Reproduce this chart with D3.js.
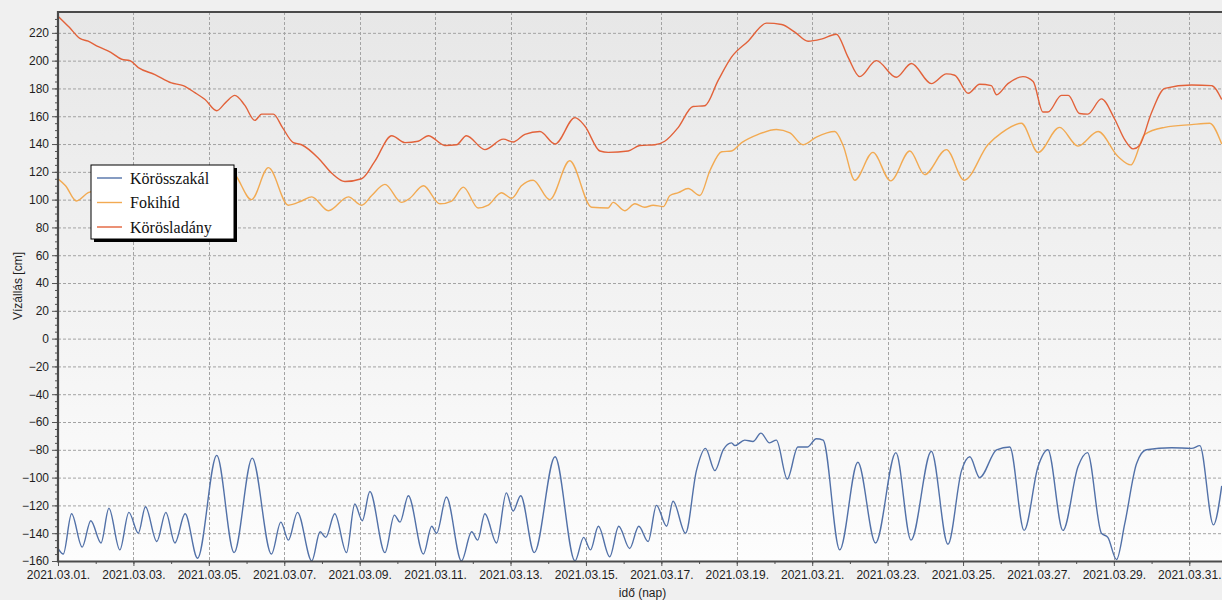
<!DOCTYPE html>
<html>
<head>
<meta charset="utf-8">
<script src="https://cdn.jsdelivr.net/npm/d3@7"></script>
<style>
  body { margin: 0; background: #f0f0f0; overflow: hidden; }
  svg { display: block; font-family: "Liberation Sans", Arial, sans-serif; }
  .grid line { stroke: #a3a3a3; stroke-width: 1; stroke-dasharray: 3,2; }
  .axis text { font-size: 12px; fill: #1e1e1e; }
  .axis line { stroke: #555; }
  .axis path { display: none; }
  .series { fill: none; stroke-width: 1.4; }
</style>
</head>
<body>
<div class="chart"></div>
<script>
// series as [days since 2021.03.01 00:00, water level cm]
const korosszakal = [
  [0,-151],[0.14,-155],[0.36,-126],[0.64,-150],[0.87,-131],[1.14,-147],[1.35,-122],[1.64,-152],
  [1.88,-125],[2.13,-140],[2.32,-121],[2.62,-146],[2.86,-125],[3.1,-147],[3.37,-126],[3.7,-158],
  [4.21,-84],[4.67,-154],[5.15,-86],[5.66,-155],[5.91,-132],[6.11,-145],[6.35,-125],[6.73,-160],
  [6.95,-139],[7.1,-143],[7.34,-126],[7.65,-154],[7.87,-119],[8.07,-131],[8.27,-110],[8.67,-154],
  [8.92,-127],[9.07,-132],[9.29,-113],[9.69,-155],[9.91,-135],[10.04,-140],[10.3,-114],[10.7,-160],
  [10.97,-139],[11.13,-145],[11.32,-126],[11.63,-147],[11.89,-111],[12.07,-124],[12.27,-113],[12.63,-154],
  [13.18,-85],[13.71,-160],[13.94,-143],[14.12,-152],[14.33,-135],[14.63,-157],[14.87,-135],[15.16,-151],
  [15.4,-135],[15.65,-146],[15.87,-120],[16.14,-135],[16.31,-117],[16.64,-140],[16.93,-95],[17.17,-79],
  [17.42,-95],[17.64,-80],[17.86,-75],[17.95,-77],[18.21,-73],[18.43,-74],[18.64,-68],[18.87,-75],
  [19.05,-73],[19.34,-101],[19.62,-78],[19.87,-78],[20.11,-72],[20.29,-73],[20.73,-152],[21.21,-89],
  [21.68,-147],[22.22,-82],[22.62,-145],[23.16,-81],[23.6,-148],[23.96,-95],[24.18,-85],[24.44,-100],
  [24.89,-80],[25.24,-78],[25.62,-138],[25.99,-92],[26.25,-80],[26.65,-138],[27.05,-92],[27.3,-82],
  [27.67,-140],[27.84,-143],[28.07,-159],[28.29,-133],[28.6,-90],[28.86,-80],[29.53,-78.5],[30.06,-79],
  [30.28,-77],[30.64,-134],[30.86,-106]
];

const fokihid = [
  [0,115],[0.2,110],[0.49,99],[0.8,105],[1.1,107],[1.35,112],[1.8,100],[2.3,111],[2.8,100],
  [3.3,112],[3.8,102],[4.45,122],[4.69,118],[5.13,100],[5.58,123],[6.11,96],[6.46,99],[6.73,102],
  [7.17,92],[7.7,102],[8.05,96],[8.32,103],[8.67,111],[9.11,98],[9.33,101],[9.69,110],[10.13,97],
  [10.44,99],[10.75,109],[11.14,94],[11.41,96],[11.76,105],[12.03,101],[12.29,110],[12.6,114],
  [13.04,100],[13.57,128],[14.15,94.5],[14.59,94],[14.72,98],[15.03,92],[15.3,97],[15.56,94.5],
  [15.78,96],[16.05,95],[16.23,103],[16.45,105],[16.71,108],[17.02,103],[17.29,121],[17.6,134.5],
  [17.86,135],[18.13,141],[18.57,147],[19.05,150.5],[19.41,148],[19.76,139.5],[20.11,145],[20.6,149],
  [20.82,139],[21.13,114],[21.61,134],[22.08,113.5],[22.59,135],[22.98,118],[23.56,136],[24.03,114],
  [24.66,139.5],[25.02,148],[25.55,155],[25.99,134],[26.56,152],[27.05,138.5],[27.58,149],[28.11,131],
  [28.45,125],[28.82,147],[29.35,152],[30.06,154],[30.54,155],[30.86,140]
];

const koroskladany = [
  [0,232],[0.3,224],[0.58,216],[0.8,214],[1.07,210],[1.4,206],[1.69,201],[1.91,200],[2.13,195],
  [2.57,190],[3.01,184],[3.32,182],[3.63,177],[3.9,172],[4.21,164],[4.45,170],[4.69,175],[4.95,168],
  [5.22,157],[5.4,161.5],[5.71,161.5],[5.95,152],[6.24,141],[6.46,139.5],[6.9,130],[7.26,119],
  [7.61,113],[8.05,115],[8.4,127.5],[8.85,146],[9.2,141],[9.55,142],[9.82,146],[10.26,139],
  [10.57,139.5],[10.83,146],[11.32,136],[11.81,143.5],[12.07,141.5],[12.38,147],[12.78,149],[13.18,140],
  [13.71,159],[13.97,153],[14.37,135],[14.59,134],[15.12,135],[15.43,139],[15.83,139.5],[16.09,142],
  [16.45,152],[16.84,167],[17.15,167.5],[17.51,186],[17.86,202.5],[18.3,214],[18.79,227],[19.19,226],
  [19.54,220.5],[19.89,214],[20.24,215.5],[20.64,219],[20.95,202.5],[21.26,188.5],[21.7,200],[22.23,188],
  [22.63,198],[23.16,183.5],[23.56,190.5],[23.78,189.5],[24.14,176.5],[24.44,183],[24.75,182],[24.89,175.5],
  [25.19,183.5],[25.59,188.5],[25.86,185],[26.12,163],[26.25,163],[26.61,175],[26.79,175],[27.09,162],
  [27.31,161.5],[27.67,172.5],[28.02,158],[28.29,143],[28.51,136.5],[28.68,139],[28.99,162],[29.35,180],
  [30.06,182.5],[30.59,182],[30.86,172]
];

const seriesNames = ["Körösszakál", "Fokihíd", "Körösladány"];
const seriesColors = ["#5271a8", "#f2aa52", "#e2623a"];
const yTicks = d3.range(-160, 221, 20);
const xTickDays = d3.range(0, 31, 2);
const yTitle = "Vízállás [cm]";
const xTitle = "idő (nap)";

const W = 1222, H = 600;
const margin = {top: 12, left: 58, bottom: 39};
const plotRight = 1227;

const start = new Date(2021, 2, 1);
const toDate = d => new Date(+start + d * 864e5);

const svg = d3.select(".chart").append("svg")
  .attr("width", W).attr("height", H);

const xScale = d3.scaleTime()
  .domain([start, toDate(31)])
  .range([margin.left, plotRight]);

const yScale = d3.scaleLinear()
  .domain([-160, 235])
  .range([H - margin.bottom, margin.top]);

const y0 = yScale.range()[0], y1 = yScale.range()[1];

// plot background gradient
const grad = svg.append("defs").append("linearGradient")
  .attr("id", "bg").attr("x1", 0).attr("x2", 0).attr("y1", 0).attr("y2", 1);
grad.append("stop").attr("offset", "0%").attr("stop-color", "#e7e7e7");
grad.append("stop").attr("offset", "100%").attr("stop-color", "#fdfdfd");

svg.select("defs").append("clipPath").attr("id", "clip")
  .append("rect")
  .attr("x", margin.left).attr("y", y1)
  .attr("width", plotRight - margin.left).attr("height", y0 - y1);

svg.append("rect")
  .attr("x", margin.left).attr("y", y1)
  .attr("width", plotRight - margin.left).attr("height", y0 - y1)
  .attr("fill", "url(#bg)");

// grid
svg.append("g").attr("class", "grid")
  .selectAll("line").data(yTicks.filter(v => v > -160)).join("line")
  .attr("x1", margin.left).attr("x2", plotRight)
  .attr("y1", d => yScale(d) + 0.5).attr("y2", d => yScale(d) + 0.5);

svg.append("g").attr("class", "grid")
  .selectAll("line").data(xTickDays.filter(d => d > 0)).join("line")
  .attr("x1", d => Math.round(xScale(toDate(d))) + 0.5).attr("x2", d => Math.round(xScale(toDate(d))) + 0.5)
  .attr("y1", y1).attr("y2", y0);

// lines
const line = d3.line()
  .x(d => xScale(toDate(d[0])))
  .y(d => yScale(d[1]))
  .curve(d3.curveMonotoneX);

[korosszakal, fokihid, koroskladany].forEach((data, i) => {
  svg.append("path")
    .datum(data)
    .attr("class", "series")
    .attr("clip-path", "url(#clip)")
    .attr("stroke", seriesColors[i])
    .attr("d", line);
});

// axes
const yAxis = d3.axisLeft(yScale).tickValues(yTicks).tickSize(6).tickPadding(3);
const yMinor = d3.axisLeft(yScale).tickValues(d3.range(-160, 235, 5)).tickSize(3).tickFormat("");

svg.append("g").attr("class", "axis y-axis")
  .attr("transform", `translate(${margin.left},0)`)
  .call(yAxis);
svg.append("g").attr("class", "axis")
  .attr("transform", `translate(${margin.left},0)`)
  .call(yMinor);

const xAxis = d3.axisBottom(xScale)
  .tickValues(xTickDays.map(toDate))
  .tickFormat(d3.timeFormat("%Y.%m.%d."))
  .tickSize(5).tickPadding(4);
const xMinor = d3.axisBottom(xScale)
  .tickValues(d3.range(0, 32).map(toDate))
  .tickSize(3).tickFormat("");

svg.append("g").attr("class", "axis x-axis")
  .attr("transform", `translate(0,${y0})`)
  .call(xAxis);
svg.append("g").attr("class", "axis")
  .attr("transform", `translate(0,${y0})`)
  .call(xMinor);

// frame lines
svg.append("line").attr("x1", margin.left).attr("x2", W).attr("y1", y0 + 0.5).attr("y2", y0 + 0.5)
  .attr("stroke", "#4a4a4a").attr("stroke-width", 2.2);
svg.append("line").attr("x1", margin.left).attr("x2", W).attr("y1", y1).attr("y2", y1)
  .attr("stroke", "#4a4a4a").attr("stroke-width", 2);
svg.append("line").attr("x1", margin.left).attr("x2", margin.left).attr("y1", y1 - 1).attr("y2", y0 + 1.5)
  .attr("stroke", "#4a4a4a").attr("stroke-width", 2.2);

// axis titles
svg.append("text")
  .attr("transform", `translate(22,${286}) rotate(-90)`)
  .attr("text-anchor", "middle")
  .attr("font-size", 12).attr("fill", "#1e1e1e")
  .text(yTitle);

svg.append("text")
  .attr("x", (margin.left + plotRight) / 2).attr("y", 597)
  .attr("text-anchor", "middle")
  .attr("font-size", 12).attr("fill", "#1e1e1e")
  .text(xTitle);

// legend
const legend = svg.append("g").attr("transform", "translate(91,165)");
legend.append("rect").attr("x", 3).attr("y", 3).attr("width", 143).attr("height", 74).attr("fill", "#000");
legend.append("rect").attr("x", 0).attr("y", 0).attr("width", 143).attr("height", 74)
  .attr("fill", "#fff").attr("stroke", "#000").attr("stroke-width", 1);

seriesNames.forEach((name, i) => {
  const ly = 13 + i * 24.5;
  legend.append("line").attr("x1", 6).attr("x2", 31).attr("y1", ly).attr("y2", ly)
    .attr("stroke", seriesColors[i]).attr("stroke-width", 1.4);
  legend.append("text").attr("x", 39).attr("y", ly + 5.5)
    .attr("font-family", "'Liberation Serif', 'Times New Roman', serif")
    .attr("font-size", 16).attr("fill", "#111")
    .text(name);
});
</script>
</body>
</html>
